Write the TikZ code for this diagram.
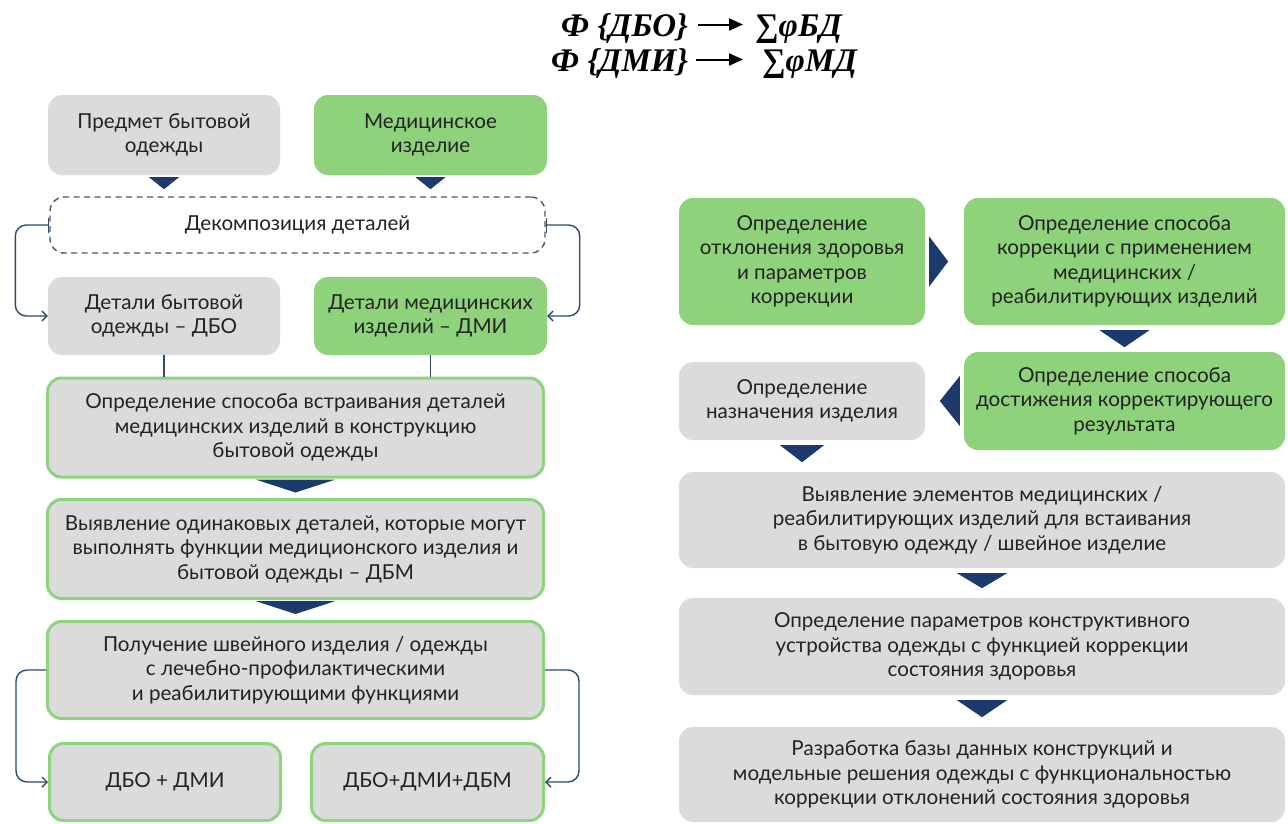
\documentclass[tikz,border=0pt]{standalone}
\usepackage{fontspec}
\setmainfont{Lato}
\newfontfamily\titlefont{Liberation Serif}
\usetikzlibrary{arrows.meta}
\definecolor{gfill}{HTML}{8FD27C}
\definecolor{grfill}{HTML}{DBDBDB}
\definecolor{gborder}{HTML}{8ED47F}
\definecolor{navy}{HTML}{1C3A6B}
\definecolor{txt}{HTML}{222222}
\definecolor{connc}{HTML}{2B4B6B}
\definecolor{dashc}{HTML}{555555}
\begin{document}
\begin{tikzpicture}[x=1pt,y=1pt,
  box/.style={rectangle, rounded corners=14pt, align=center, text=txt, font=\fontsize{20.6}{24.5}\selectfont, inner sep=0pt},
  gbox/.style={box, fill=gfill},
  ybox/.style={box, fill=grfill},
  bbox/.style={box, fill=grfill, draw=gborder, line width=3pt},
  dbox/.style={box, fill=white, draw=dashc, line width=1.4pt, dash pattern=on 6pt off 4.5pt},
  link/.style={draw=connc, line width=1.4pt, rounded corners=11pt},
  tri/.style={fill=navy},
  ttl/.style={font=\titlefont\bfseries\itshape\fontsize{33}{38}\selectfont, inner sep=0pt, text height=23pt, text depth=0pt},
  tarrow/.style={line width=2pt, -{Triangle[length=14pt,width=12pt]}},
]
\useasboundingbox (0,0) rectangle (1288,-823);

% title
\node[ttl, anchor=base west] (f1) at (561,-36) {Ф \{ДБО\}};
\node[ttl, anchor=base west] (s1) at (755,-36) {∑φБД};
\node[ttl, anchor=base west] (f2) at (551,-71) {Ф \{ДМИ\}};
\node[ttl, anchor=base west] (s2) at (762,-71) {∑φМД};
\draw[tarrow] ([xshift=10pt]f1.east) -- ([xshift=-12pt]s1.west);
\draw[tarrow] ([xshift=8pt]f2.east) -- ([xshift=-19pt]s2.west);

% left column
\node[ybox, minimum width=232pt, minimum height=80pt] (b1) at (164,-135) {Предмет бытовой\\одежды};
\node[gbox, minimum width=233pt, minimum height=80pt] (b2) at (430.5,-135) {Медицинское\\изделие};
\node[dbox, minimum width=495pt, minimum height=56pt] (dec) at (297.5,-225) {Декомпозиция деталей};
\node[ybox, minimum width=232pt, minimum height=78pt] (b3) at (164,-316) {Детали бытовой\\одежды – ДБО};
\node[gbox, minimum width=233pt, minimum height=78pt] (b4) at (430.5,-316) {Детали медицинских\\изделий – ДМИ};
\node[bbox, minimum width=496pt, minimum height=99pt] (b5) at (295.5,-427.5) {Определение способа встраивания деталей\\медицинских изделий в конструкцию\\бытовой одежды};
\node[bbox, minimum width=496pt, minimum height=99pt] (b6) at (295.5,-549) {Выявление одинаковых деталей, которые могут\\выполнять функции медиционского изделия и\\бытовой одежды – ДБМ};
\node[bbox, minimum width=496pt, minimum height=97pt] (b7) at (295.5,-670) {Получение швейного изделия / одежды\\с лечебно-профилактическими\\и реабилитирующими функциями};
\node[bbox, minimum width=231pt, minimum height=77pt] (b8) at (165,-782) {ДБО + ДМИ};
\node[bbox, minimum width=232pt, minimum height=77pt] (b9) at (427.5,-782) {ДБО+ДМИ+ДБМ};

\fill[tri] ([xshift=-15pt,yshift=-2pt]b1.south) -- ([xshift=15pt,yshift=-2pt]b1.south) -- ([yshift=-14pt]b1.south) -- cycle;
\fill[tri] ([xshift=-15pt,yshift=-2pt]b2.south) -- ([xshift=15pt,yshift=-2pt]b2.south) -- ([yshift=-14pt]b2.south) -- cycle;
\fill[tri] ([xshift=-40pt,yshift=-1pt]b5.south) -- ([xshift=40pt,yshift=-1pt]b5.south) -- ([yshift=-14pt]b5.south) -- cycle;
\fill[tri] ([xshift=-40pt,yshift=-1pt]b6.south) -- ([xshift=40pt,yshift=-1pt]b6.south) -- ([yshift=-14pt]b6.south) -- cycle;

\draw[draw=connc, line width=1.4pt] (b3.south) -- (b3.south |- b5.north);
\draw[draw=connc, line width=1.4pt] (b4.south) -- (b4.south |- b5.north);

\draw[link, {Bar[width=15pt]}-{Straight Barb[length=5pt,width=10pt]}] (dec.west) -- ++(-34,0) |- (b3.west);
\draw[link, {Bar[width=15pt]}-{Straight Barb[length=5pt,width=10pt]}] (dec.east) -- ++(34,0) |- (b4.east);
\draw[link, -{Straight Barb[length=5pt,width=10pt]}] (b7.west) -- ++(-30,0) |- (b8.west);
\draw[link, -{Straight Barb[length=5pt,width=10pt]}] (b7.east) -- ++(34,0) |- (b9.east);

% right column
\node[gbox, minimum width=246pt, minimum height=127pt] (r1) at (802,-261.5) {Определение\\отклонения здоровья\\и параметров\\коррекции};
\node[gbox, minimum width=321pt, minimum height=127pt] (r2) at (1124.5,-261.5) {Определение способа\\коррекции с применением\\медицинских /\\реабилитирующих изделий};
\node[gbox, minimum width=321pt, minimum height=98pt] (r3) at (1124.5,-401) {Определение способа\\достижения корректирующего\\результата};
\node[ybox, minimum width=246pt, minimum height=78pt] (r4) at (802,-401) {Определение\\назначения изделия};
\node[ybox, minimum width=606pt, minimum height=96pt] (r5) at (982,-520) {Выявление элементов медицинских /\\реабилитирующих изделий для встаивания\\в бытовую одежду / швейное изделие};
\node[ybox, minimum width=606pt, minimum height=97pt] (r6) at (982,-646.5) {Определение параметров конструктивного\\устройства одежды с функцией коррекции\\состояния здоровья};
\node[ybox, minimum width=606pt, minimum height=95pt] (r7) at (982,-774.5) {Разработка базы данных конструкций и\\модельные решения одежды с функциональностью\\коррекции отклонений состояния здоровья};

\fill[tri] ([xshift=4pt,yshift=25pt]r1.east) -- ([xshift=4pt,yshift=-25pt]r1.east) -- ([xshift=23pt]r1.east) -- cycle;
\fill[tri] ([xshift=-4pt,yshift=25pt]r3.west) -- ([xshift=-4pt,yshift=-25pt]r3.west) -- ([xshift=-24pt]r3.west) -- cycle;
\fill[tri] ([xshift=-25pt,yshift=-5pt]r2.south) -- ([xshift=25pt,yshift=-5pt]r2.south) -- ([yshift=-22pt]r2.south) -- cycle;
\fill[tri] ([xshift=-22pt,yshift=-5pt]r4.south) -- ([xshift=22pt,yshift=-5pt]r4.south) -- ([yshift=-22pt]r4.south) -- cycle;
\fill[tri] ([xshift=-25pt,yshift=-5pt]r5.south) -- ([xshift=25pt,yshift=-5pt]r5.south) -- ([yshift=-20pt]r5.south) -- cycle;
\fill[tri] ([xshift=-25pt,yshift=-5pt]r6.south) -- ([xshift=25pt,yshift=-5pt]r6.south) -- ([yshift=-22pt]r6.south) -- cycle;
\end{tikzpicture}
\end{document}
